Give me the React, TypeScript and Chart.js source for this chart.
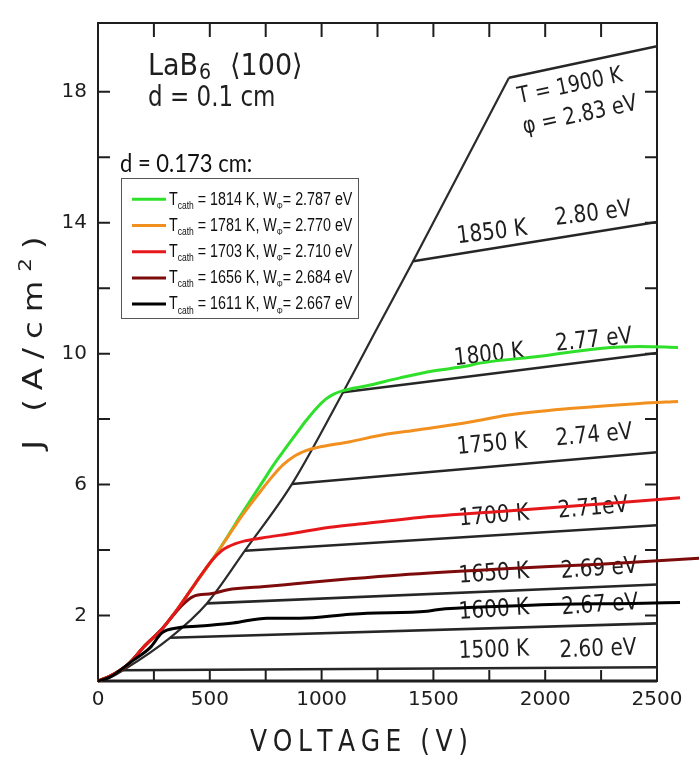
import React, { useEffect, useRef } from "react";
import { Chart, registerables } from "chart.js";

Chart.register(...registerables);

// ---------- axes ----------
const voltageTicks = [0, 500, 1000, 1500, 2000, 2500];
const currentTicks = [2, 6, 10, 14, 18];
const voltageMinorTicks = [250, 500, 750, 1000, 1250, 1500, 1750, 2000, 2250];
const currentMinorTicks = [2, 4, 6, 8, 10, 12, 14, 16, 18];

// ---------- original figure (LaB6 <100>, d = 0.1 cm) ----------
const spaceChargeV = [0, 56, 112, 322, 487, 657, 868, 1096, 1252, 1409, 1838];
const spaceChargeJ = [0, 0.12, 0.33, 1.32, 2.37, 3.98, 6.02, 8.82, 10.82, 12.82, 18.43];
const satTemps = ["1500 K", "1600 K", "1650 K", "1700 K", "1750 K", "1800 K", "1850 K", "T = 1900 K"];
const satPhis = ["2.60 eV", "2.67 eV", "2.69 eV", "2.71eV", "2.74 eV", "2.77 eV", "2.80 eV", "φ = 2.83 eV"];
const satStartV = [112, 322, 487, 657, 868, 1096, 1409, 1838];
const satStartJ = [0.33, 1.32, 2.37, 3.98, 6.02, 8.82, 12.82, 18.43];
const satEndV = [2500, 2500, 2500, 2500, 2500, 2500, 2500, 2500];
const satEndJ = [0.42, 1.76, 2.95, 4.76, 6.99, 10.02, 14.02, 19.39];

// ---------- overlay measurements (d = 0.173 cm) ----------
const green1814V = [0, 54, 134, 210, 286, 358, 434, 510, 581, 635, 680, 733, 780, 827, 881, 930, 979, 1020, 1050, 1096, 1203, 1351, 1498, 1650, 1708, 1977, 2245, 2424, 2594];
const green1814J = [0, 0.15, 0.51, 1.08, 1.59, 2.22, 2.97, 3.69, 4.43, 5.02, 5.5, 6.05, 6.55, 7.0, 7.5, 7.95, 8.35, 8.62, 8.75, 8.87, 9.02, 9.26, 9.47, 9.62, 9.71, 9.92, 10.16, 10.22, 10.19];
const orange1781V = [0, 54, 134, 210, 286, 358, 434, 510, 581, 635, 680, 733, 780, 827, 881, 930, 979, 1127, 1275, 1427, 1664, 1829, 2124, 2424, 2594];
const orange1781J = [0, 0.15, 0.51, 1.08, 1.59, 2.22, 2.97, 3.69, 4.41, 4.96, 5.38, 5.85, 6.25, 6.6, 6.88, 7.04, 7.13, 7.31, 7.52, 7.67, 7.91, 8.12, 8.33, 8.48, 8.54];
const red1703V = [0, 54, 134, 210, 286, 358, 434, 510, 555, 581, 657, 733, 881, 1038, 1203, 1498, 1798, 2097, 2393, 2603];
const red1703J = [0, 0.15, 0.51, 1.08, 1.59, 2.22, 2.97, 3.69, 3.99, 4.1, 4.28, 4.37, 4.52, 4.7, 4.82, 5.03, 5.18, 5.33, 5.48, 5.6];
const darkRed1656V = [0, 54, 134, 210, 286, 322, 380, 425, 510, 581, 733, 881, 1127, 1351, 1798, 2245, 2688];
const darkRed1656J = [0, 0.15, 0.51, 1.08, 1.59, 1.89, 2.34, 2.58, 2.67, 2.79, 2.88, 2.97, 3.12, 3.24, 3.42, 3.57, 3.75];
const black1611V = [0, 54, 157, 233, 286, 353, 456, 604, 756, 903, 1127, 1203, 1471, 1516, 1798, 2021, 2393, 2603];
const black1611J = [0, 0.12, 0.63, 1.02, 1.47, 1.62, 1.68, 1.77, 1.92, 1.92, 2.04, 2.07, 2.13, 2.18, 2.28, 2.34, 2.37, 2.4];

// legend content
const cathodeTemps = ["1814", "1781", "1703", "1656", "1611"];
const workFunctions = ["2.787", "2.770", "2.710", "2.684", "2.667"];

// ---------- styles / layout ----------
const INK = "#1e1e1e";
const LETTER = '"DejaVu Sans", sans-serif';
const ARIAL = '"Liberation Sans", Arial, sans-serif';
const seriesColors = ["#2fe02a", "#f2901f", "#e6171b", "#7d0b0b", "#000000"]; // legend order
// label anchor positions in data units: [kV, kJ, eV, eJ, rotationDeg]
const labelAnchors: number[][] = [
  [1771, 0.93, 2236, 0.96, -2],
  [1771, 2.16, 2245, 2.31, -4],
  [1771, 3.27, 2241, 3.42, -4],
  [1771, 5.03, 2214, 5.27, -5],
  [1762, 7.22, 2218, 7.49, -5],
  [1749, 9.95, 2218, 10.4, -6],
  [1762, 13.69, 2214, 14.26, -7],
  [2111, 18.16, 2156, 17.27, -12],
];

const pairs = (xs: number[], ys: number[]) => xs.map((x, i) => ({ x, y: ys[i] }));

type Seg = { t: string; size: number; dy?: number; family?: string };

function drawText(
  ctx: CanvasRenderingContext2D,
  str: string,
  x: number,
  y: number,
  o: { size: number; family?: string; align?: CanvasTextAlign; base?: CanvasTextBaseline; rot?: number; sx?: number; sy?: number }
) {
  ctx.save();
  ctx.translate(x, y);
  if (o.rot) ctx.rotate((o.rot * Math.PI) / 180);
  ctx.scale(o.sx ?? 1, o.sy ?? 1);
  ctx.font = `${o.size}px ${o.family ?? LETTER}`;
  ctx.textAlign = o.align ?? "center";
  ctx.textBaseline = o.base ?? "middle";
  ctx.fillText(str, 0, 0);
  ctx.restore();
}

// draw segments char by char with spacing; (x,y) = baseline start or center
function drawRich(ctx: CanvasRenderingContext2D, segs: Seg[], x: number, y: number, spacing: number, center: boolean) {
  const items: { ch: string; font: string; dy: number; w: number }[] = [];
  let total = 0;
  for (const s of segs) {
    const font = `${s.size}px ${s.family ?? LETTER}`;
    ctx.font = font;
    for (const ch of s.t) {
      const w = ctx.measureText(ch).width;
      items.push({ ch, font, dy: s.dy ?? 0, w });
      total += w + spacing;
    }
  }
  total -= spacing;
  let cx = center ? x - total / 2 : x;
  ctx.textAlign = "left";
  ctx.textBaseline = "alphabetic";
  for (const it of items) {
    ctx.font = it.font;
    ctx.fillText(it.ch, cx, y + it.dy);
    cx += it.w + spacing;
  }
}

const figurePlugin = {
  id: "figurePlugin",
  beforeDatasetsDraw(chart: any) {
    const { ctx, chartArea: a, scales } = chart;
    const xs = scales.x;
    const ys = scales.y;
    ctx.save();
    ctx.strokeStyle = INK;
    ctx.fillStyle = INK;
    // frame
    ctx.lineWidth = 2;
    ctx.strokeRect(a.left, a.top, a.right - a.left, a.bottom - a.top);
    ctx.lineWidth = 3;
    ctx.beginPath();
    ctx.moveTo(a.left, a.bottom);
    ctx.lineTo(a.right, a.bottom);
    ctx.stroke();
    // inward tick marks
    ctx.lineWidth = 2;
    ctx.beginPath();
    for (const v of currentMinorTicks) {
      const py = ys.getPixelForValue(v);
      ctx.moveTo(a.left, py);
      ctx.lineTo(a.left + 12, py);
      ctx.moveTo(a.right, py);
      ctx.lineTo(a.right - 12, py);
    }
    for (const v of voltageMinorTicks) {
      const px = xs.getPixelForValue(v);
      ctx.moveTo(px, a.bottom);
      ctx.lineTo(px, a.bottom - 11);
      ctx.moveTo(px, a.top);
      ctx.lineTo(px, a.top + 14);
    }
    ctx.stroke();

    // curve labels of the original figure
    labelAnchors.forEach((an, i) => {
      const big = i === 7;
      drawText(ctx, satTemps[i], xs.getPixelForValue(an[0]), ys.getPixelForValue(an[1]), {
        size: big ? 19 : 20,
        rot: an[4],
        sy: 1.2,
      });
      drawText(ctx, satPhis[i], xs.getPixelForValue(an[2]), ys.getPixelForValue(an[3]), {
        size: big ? 19.5 : 20,
        rot: an[4],
        sy: 1.2,
      });
    });

    // title of original figure
    ctx.save();
    ctx.translate(148, 75);
    ctx.scale(1, 1.1);
    ctx.font = `27px ${LETTER}`;
    ctx.textAlign = "left";
    ctx.textBaseline = "alphabetic";
    ctx.fillText("LaB", 0, 0);
    const w1 = ctx.measureText("LaB").width;
    ctx.font = `19px ${LETTER}`;
    ctx.fillText("6", w1 + 1, 4);
    ctx.font = `27px ${LETTER}`;
    ctx.fillText("⟨100⟩", 82, 0);
    ctx.restore();
    drawText(ctx, "d = 0.1 cm", 148, 106, { size: 23, align: "left", base: "alphabetic", sy: 1.2 });
    ctx.restore();
  },
  afterDraw(chart: any) {
    const { ctx } = chart;
    ctx.save();
    ctx.fillStyle = INK;
    // axis titles
    ctx.save();
    ctx.translate(359, 751);
    ctx.scale(1, 1.2);
    drawRich(ctx, [{ t: "VOLTAGE (V)", size: 25 }], 0, 0, 5.5, true);
    ctx.restore();

    ctx.save();
    ctx.translate(42, 343);
    ctx.rotate(-Math.PI / 2);
    ctx.scale(1.2, 1);
    drawRich(
      ctx,
      [
        { t: "J (A/cm", size: 27 },
        { t: "2", size: 18, dy: -11 },
        { t: ")", size: 27 },
      ],
      0,
      0,
      7.5,
      true
    );
    ctx.restore();

    // legend for overlay measurements
    ctx.fillStyle = "#111";
    drawText(ctx, "d = 0.173 cm:", 120, 172, { size: 22, family: "Lato, sans-serif", align: "left", base: "alphabetic", sy: 1.1 });
    const bx = 121, by = 178, bw = 237, bh = 140;
    ctx.fillStyle = "#ffffff";
    ctx.fillRect(bx, by, bw, bh);
    ctx.strokeStyle = "#555";
    ctx.lineWidth = 1;
    ctx.strokeRect(bx + 0.5, by + 0.5, bw, bh);
    cathodeTemps.forEach((t, i) => {
      const cy = 199.3 + i * 26.2;
      ctx.strokeStyle = seriesColors[i];
      ctx.lineWidth = 3;
      ctx.beginPath();
      ctx.moveTo(132, cy);
      ctx.lineTo(166, cy);
      ctx.stroke();
      ctx.fillStyle = "#111";
      ctx.save();
      ctx.translate(169, cy + 5.3);
      ctx.scale(1, 1.22);
      drawRich(
        ctx,
        [
          { t: "T", size: 14.3, family: ARIAL },
          { t: "cath", size: 8.5, dy: 3.5, family: ARIAL },
          { t: ` = ${t} K, W`, size: 14.3, family: ARIAL },
          { t: "Φ", size: 7.5, dy: 3.5, family: ARIAL },
          { t: `= ${workFunctions[i]} eV`, size: 14.3, family: ARIAL },
        ],
        0,
        0,
        0,
        false
      );
      ctx.restore();
    });
    ctx.restore();
  },
};

export default function App() {
  const ref = useRef<HTMLCanvasElement | null>(null);

  useEffect(() => {
    const canvas = ref.current;
    if (!canvas) return;
    const overlay = (label: string, xs: number[], ys: number[], color: string, order: number) => ({
      label,
      data: pairs(xs, ys),
      borderColor: color,
      backgroundColor: color,
      borderWidth: 3,
      pointRadius: 0,
      fill: false,
      clip: false as any,
      cubicInterpolationMode: "monotone" as const,
      order,
    });
    const legendLabel = (i: number) => `Tcath = ${cathodeTemps[i]} K, WΦ= ${workFunctions[i]} eV`;
    const original = satStartV.map((v, i) => ({
      label: `${satTemps[i]} ${satPhis[i]}`,
      data: [
        { x: v, y: satStartJ[i] },
        { x: satEndV[i], y: satEndJ[i] },
      ],
      borderColor: "#262626",
      borderWidth: 2.6,
      pointRadius: 0,
      fill: false,
      tension: 0,
      order: 10,
    }));

    const chart = new Chart(canvas, {
      type: "line",
      data: {
        datasets: [
          overlay(legendLabel(4), black1611V, black1611J, seriesColors[4], 1),
          overlay(legendLabel(2), red1703V, red1703J, seriesColors[2], 2),
          overlay(legendLabel(3), darkRed1656V, darkRed1656J, seriesColors[3], 3),
          overlay(legendLabel(1), orange1781V, orange1781J, seriesColors[1], 4),
          overlay(legendLabel(0), green1814V, green1814J, seriesColors[0], 5),
          {
            label: "space-charge limit",
            data: pairs(spaceChargeV, spaceChargeJ),
            borderColor: "#2b2b2b",
            borderWidth: 2.2,
            pointRadius: 0,
            fill: false,
            cubicInterpolationMode: "monotone",
            order: 11,
          } as any,
          ...original,
        ],
      },
      options: {
        responsive: false,
        animation: false,
        layout: { padding: { top: 10, right: 42, left: 0, bottom: 0 } },
        plugins: { legend: { display: false }, tooltip: { enabled: false } },
        scales: {
          x: {
            type: "linear",
            min: 0,
            max: 2500,
            grid: { display: false, drawTicks: false },
            border: { display: false },
            afterBuildTicks: (s: any) => {
              s.ticks = voltageTicks.map((v) => ({ value: v }));
            },
            afterFit: (s: any) => {
              s.height = 77;
            },
            ticks: {
              padding: 7,
              autoSkip: false,
              maxRotation: 0,
              color: INK,
              font: { family: LETTER, size: 20 },
              callback: (v: any) => String(v),
            },
          },
          y: {
            type: "linear",
            min: 0,
            max: 20.1,
            grid: { display: false, drawTicks: false },
            border: { display: false },
            afterBuildTicks: (s: any) => {
              s.ticks = currentTicks.map((v) => ({ value: v }));
            },
            afterFit: (s: any) => {
              s.width = 98;
            },
            ticks: {
              padding: 11,
              autoSkip: false,
              color: INK,
              font: { family: LETTER, size: 20 },
              callback: (v: any) => String(v),
            },
          },
        },
      },
      plugins: [figurePlugin],
    });
    return () => chart.destroy();
  }, []);

  return (
    <div style={{ position: "absolute", left: 0, top: 0, width: 699, height: 758, background: "#ffffff" }}>
      <canvas ref={ref} width={699} height={758} style={{ width: 699, height: 758, display: "block" }} />
    </div>
  );
}
